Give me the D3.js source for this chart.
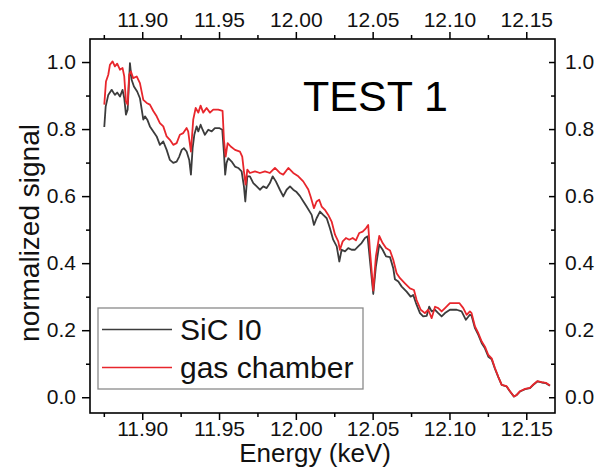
<!DOCTYPE html>
<html>
<head>
<meta charset="utf-8">
<script src="https://cdn.jsdelivr.net/npm/d3@7"></script>
<style>
  body { margin: 0; background: #fff; }
  svg text { font-family: "Liberation Sans", Arial, sans-serif; }
</style>
</head>
<body>
<svg id="chart" width="597" height="476"></svg>
<script>
// energy (keV) and normalized signal
var sicE = [11.8753,11.8762,11.8779,11.8801,11.8822,11.8837,11.8855,11.8872,11.8883,11.8894,11.8905,11.8920,11.8931,11.8946,11.8967,11.8985,
  11.9007,11.9018,11.9033,11.9050,11.9072,11.9094,11.9115,11.9137,11.9159,11.9180,11.9202,11.9224,11.9241,11.9257,11.9271,11.9289,11.9306,11.9317,
  11.9328,11.9339,11.9354,11.9365,11.9380,11.9393,11.9408,11.9430,11.9452,11.9473,11.9501,11.9521,11.9532,11.9540,11.9549,11.9560,11.9582,11.9604,
  11.9625,11.9647,11.9662,11.9671,11.9684,11.9701,11.9723,11.9745,11.9766,11.9788,11.9810,11.9831,11.9849,11.9870,11.9896,11.9918,11.9940,11.9962,
  11.9983,12.0005,12.0027,12.0048,12.0070,12.0103,12.0118,12.0135,12.0157,12.0178,12.0201,12.0222,12.0243,12.0266,12.0283,12.0298,12.0320,12.0341,
  12.0363,12.0385,12.0406,12.0428,12.0450,12.0467,12.0482,12.0504,12.0521,12.0543,12.0565,12.0587,12.0613,12.0634,12.0645,12.0667,12.0689,12.0721,
  12.0747,12.0764,12.0782,12.0808,12.0829,12.0852,12.0868,12.0884,12.0906,12.0927,12.0949,12.0971,12.1003,12.1047,12.1079,12.1107,12.1133,12.1144,
  12.1166,12.1188,12.1210,12.1231,12.1253,12.1275,12.1296,12.1318,12.1340,12.1372,12.1394,12.1420,12.1438,12.1459,12.1492,12.1524,12.1546,12.1572,
  12.1600,12.1628,12.1654];
var sicV = [0.806,0.867,0.902,0.917,0.902,0.909,0.897,0.917,0.892,0.843,0.858,0.997,0.947,0.927,0.912,0.892,
  0.828,0.838,0.828,0.808,0.793,0.778,0.753,0.763,0.738,0.708,0.699,0.703,0.718,0.738,0.743,0.733,0.708,0.664,
  0.743,0.783,0.808,0.793,0.813,0.798,0.783,0.798,0.793,0.803,0.803,0.798,0.728,0.664,0.699,0.713,0.703,0.688,
  0.684,0.674,0.629,0.584,0.659,0.659,0.639,0.629,0.619,0.629,0.624,0.639,0.659,0.644,0.619,0.599,0.619,0.629,
  0.619,0.612,0.600,0.585,0.569,0.544,0.514,0.534,0.554,0.544,0.534,0.504,0.470,0.450,0.405,0.440,0.435,0.445,
  0.440,0.440,0.450,0.460,0.475,0.480,0.410,0.308,0.390,0.455,0.440,0.420,0.418,0.385,0.352,0.345,0.330,0.315,
  0.300,0.305,0.281,0.251,0.241,0.243,0.270,0.256,0.261,0.251,0.241,0.251,0.261,0.261,0.256,0.231,0.246,0.243,
  0.206,0.186,0.161,0.146,0.121,0.113,0.085,0.060,0.037,0.032,0.017,0.002,0.007,0.017,0.024,0.027,0.037,0.047,
  0.044,0.042,0.034];

var gasE = [11.8753,11.8764,11.8779,11.8790,11.8807,11.8822,11.8837,11.8855,11.8872,11.8883,11.8894,11.8905,11.8915,11.8926,11.8941,11.8964,
  11.8985,11.9007,11.9029,11.9050,11.9072,11.9094,11.9115,11.9137,11.9159,11.9180,11.9202,11.9224,11.9245,11.9267,11.9289,11.9299,11.9317,11.9332,
  11.9348,11.9365,11.9380,11.9397,11.9419,11.9441,11.9462,11.9495,11.9523,11.9532,11.9543,11.9556,11.9576,11.9604,11.9636,11.9651,11.9662,11.9673,
  11.9684,11.9701,11.9734,11.9766,11.9799,11.9831,11.9864,11.9896,11.9918,11.9951,11.9983,12.0016,12.0048,12.0081,12.0096,12.0118,12.0135,12.0152,
  12.0168,12.0189,12.0211,12.0233,12.0255,12.0276,12.0287,12.0305,12.0326,12.0348,12.0370,12.0391,12.0413,12.0435,12.0456,12.0471,12.0482,12.0504,
  12.0521,12.0543,12.0565,12.0587,12.0613,12.0634,12.0656,12.0678,12.0710,12.0743,12.0769,12.0786,12.0813,12.0840,12.0862,12.0884,12.0906,12.0927,
  12.0949,12.0971,12.1003,12.1036,12.1064,12.1090,12.1112,12.1133,12.1144,12.1166,12.1188,12.1210,12.1231,12.1253,12.1275,12.1296,12.1318,12.1340,
  12.1372,12.1394,12.1420,12.1438,12.1459,12.1492,12.1524,12.1546,12.1572,12.1600,12.1628,12.1654];
var gasV = [0.873,0.942,0.962,0.992,1.002,0.987,0.995,0.977,0.982,0.957,0.882,0.873,0.962,0.972,0.952,0.957,
  0.937,0.887,0.878,0.873,0.854,0.838,0.818,0.808,0.778,0.768,0.753,0.758,0.783,0.788,0.803,0.793,0.733,0.828,
  0.863,0.849,0.870,0.849,0.863,0.849,0.858,0.858,0.854,0.768,0.718,0.758,0.748,0.738,0.733,0.718,0.674,0.634,
  0.679,0.669,0.674,0.669,0.674,0.669,0.684,0.669,0.664,0.684,0.669,0.659,0.644,0.620,0.599,0.564,0.584,0.589,
  0.569,0.559,0.544,0.524,0.485,0.465,0.440,0.465,0.475,0.470,0.475,0.468,0.490,0.494,0.504,0.514,0.440,0.318,
  0.420,0.481,0.460,0.445,0.438,0.410,0.370,0.355,0.340,0.325,0.320,0.290,0.261,0.251,0.261,0.236,0.270,0.266,
  0.256,0.266,0.281,0.281,0.281,0.266,0.246,0.256,0.251,0.211,0.191,0.166,0.151,0.126,0.116,0.087,0.061,0.037,
  0.033,0.018,0.002,0.007,0.018,0.025,0.028,0.038,0.048,0.045,0.043,0.035];

var xMajor = [11.90, 11.95, 12.00, 12.05, 12.10, 12.15];
var xMinor = [11.875, 11.925, 11.975, 12.025, 12.075, 12.125];
var yMajor = [0.0, 0.2, 0.4, 0.6, 0.8, 1.0];
var yMinor = [0.1, 0.3, 0.5, 0.7, 0.9];
var legendNames = ["SiC I0", "gas chamber"];
var colors = ["#3c3c3c", "#e8262c"];

var svg = d3.select("#chart");
var pLeft = 90, pRight = 555, pTop = 39, pBottom = 413;

var x = d3.scaleLinear().domain([11.866, 12.1687]).range([pLeft, pRight]);
var y = d3.scaleLinear().domain([-0.047, 1.0687]).range([pBottom, pTop]);

function styleAxis(g, size) {
  g.select(".domain").remove();
  g.selectAll("line").attr("stroke", "#000").attr("stroke-width", 1.5);
  g.selectAll("text").style("font-size", size + "px").attr("fill", "#111");
}

// bottom
svg.append("g").attr("transform", "translate(0," + pBottom + ")")
  .call(d3.axisBottom(x).tickValues(xMajor).tickFormat(d3.format(".2f")).tickSize(7).tickPadding(1))
  .call(styleAxis, 21);
svg.append("g").attr("transform", "translate(0," + pBottom + ")")
  .call(d3.axisBottom(x).tickValues(xMinor).tickFormat("").tickSize(4))
  .call(styleAxis, 21);
// top
svg.append("g").attr("transform", "translate(0," + pTop + ")")
  .call(d3.axisTop(x).tickValues(xMajor).tickFormat(d3.format(".2f")).tickSize(7).tickPadding(5))
  .call(styleAxis, 21);
svg.append("g").attr("transform", "translate(0," + pTop + ")")
  .call(d3.axisTop(x).tickValues(xMinor).tickFormat("").tickSize(4))
  .call(styleAxis, 21);
// left
svg.append("g").attr("transform", "translate(" + pLeft + ",0)")
  .call(d3.axisLeft(y).tickValues(yMajor).tickFormat(d3.format(".1f")).tickSize(8).tickPadding(6))
  .call(styleAxis, 21);
svg.append("g").attr("transform", "translate(" + pLeft + ",0)")
  .call(d3.axisLeft(y).tickValues(yMinor).tickFormat("").tickSize(4))
  .call(styleAxis, 21);
// right (ticks point inward)
svg.append("g").attr("transform", "translate(" + pRight + ",0)")
  .call(d3.axisRight(y).tickValues(yMajor).tickFormat(d3.format(".1f")).tickSize(-6).tickPadding(10))
  .call(styleAxis, 21);
svg.append("g").attr("transform", "translate(" + pRight + ",0)")
  .call(d3.axisRight(y).tickValues(yMinor).tickFormat("").tickSize(-4))
  .call(styleAxis, 21);

// frame
svg.append("rect").attr("x", pLeft).attr("y", pTop).attr("width", pRight - pLeft).attr("height", pBottom - pTop)
  .attr("fill", "none").attr("stroke", "#000").attr("stroke-width", 1.6);

var line = d3.line().x(function(d) { return x(d[0]); }).y(function(d) { return y(d[1]); });
var series = [d3.zip(sicE, sicV), d3.zip(gasE, gasV)];
series.forEach(function(s, i) {
  svg.append("path").datum(s).attr("d", line)
    .attr("fill", "none").attr("stroke", colors[i]).attr("stroke-width", 1.8)
    .attr("stroke-linejoin", "round");
});

// titles
svg.append("text").attr("x", 315).attr("y", 462).attr("text-anchor", "middle")
  .style("font-size", "26px").attr("fill", "#111").text("Energy (keV)");
svg.append("text").attr("transform", "translate(39,233) rotate(-90)").attr("text-anchor", "middle")
  .style("font-size", "28px").attr("fill", "#111").text("normalized signal");
svg.append("text").attr("x", 303).attr("y", 111)
  .style("font-size", "43px").attr("fill", "#000").text("TEST 1");

// legend
svg.append("rect").attr("x", 98).attr("y", 308).attr("width", 265).attr("height", 81)
  .attr("fill", "#fff").attr("stroke", "#8a8a8a").attr("stroke-width", 1.3);
var legY = [329.5, 367.5];
legendNames.forEach(function(n, i) {
  svg.append("line").attr("x1", 102).attr("x2", 172).attr("y1", legY[i]).attr("y2", legY[i])
    .attr("stroke", colors[i]).attr("stroke-width", 1.7);
  svg.append("text").attr("x", 180).attr("y", legY[i] + 10.5)
    .style("font-size", "30px").attr("fill", "#111").text(n);
});
</script>
</body>
</html>
